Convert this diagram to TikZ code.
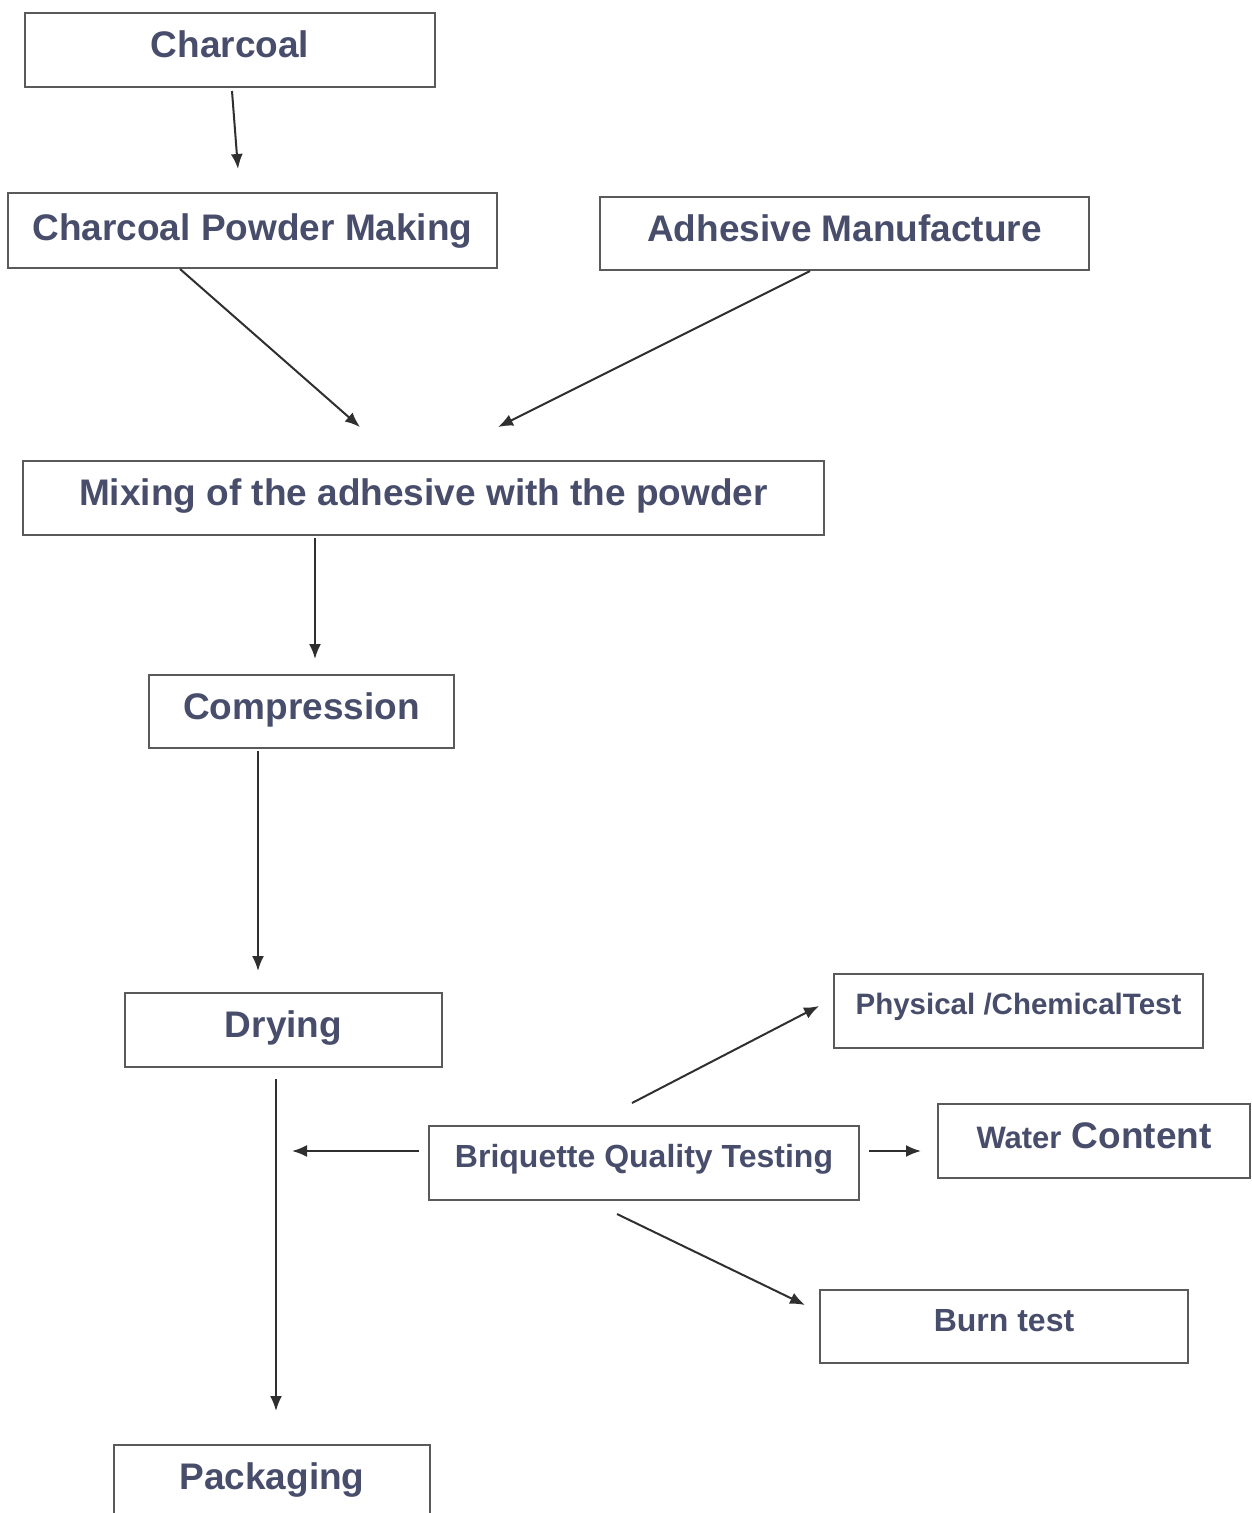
\documentclass[tikz,border=0pt]{standalone}
\usepackage{fontspec}
\setmainfont{Liberation Sans}
\usepackage{tikz}
\usetikzlibrary{arrows.meta, calc}
\definecolor{txtblue}{HTML}{474D6A}
\definecolor{boxgray}{HTML}{5A5A5A}
\definecolor{arrgray}{HTML}{2F2F2F}

\begin{document}
\begin{tikzpicture}[>={Latex[length=15pt,width=12pt]}, x=1pt, y=-1pt,
    box/.style={draw=boxgray, line width=2pt, inner sep=0pt, text=txtblue,
      font=\fontsize{37}{40}\selectfont\bfseries, text height=27pt, text depth=12pt},
    smallbox/.style={box, font=\fontsize{32}{35}\selectfont\bfseries,
      text height=23pt, text depth=14pt},
    flow/.style={->, draw=arrgray, line width=2pt}]
  \useasboundingbox (0,0) rectangle (1251,1513);

  % process chain
  \node[box, minimum width=410pt, minimum height=74pt] (charcoal) at (230,50) {Charcoal};
  \node[box, minimum width=489pt, minimum height=75pt, text depth=8pt] (powder) at (252.5,230.5) {Charcoal Powder Making};
  \node[box, minimum width=489pt, minimum height=73pt] (adhesive) at (844.5,233.5) {Adhesive Manufacture};
  \node[box, minimum width=801pt, minimum height=74pt] (mixing) at (423.5,498) {Mixing of the adhesive with the powder};
  \node[box, minimum width=305pt, minimum height=73pt] (compression) at (301.5,711.5) {Compression};
  \node[box, minimum width=317pt, minimum height=74pt] (drying) at (283.5,1030) {Drying};
  \node[box, minimum width=316pt, minimum height=74pt] (packaging) at (272,1482) {Packaging};

  % quality tests
  \node[smallbox, minimum width=430pt, minimum height=74pt] (testing) at (644,1163) {Briquette Quality Testing};
  \node[smallbox, minimum width=369pt, minimum height=74pt, font=\fontsize{29.5}{32}\selectfont\bfseries,
    text depth=16pt] (physical) at (1018.5,1011) {Physical /ChemicalTest};
  \node[box, minimum width=312pt, minimum height=74pt] (water) at (1094,1141)
    {{\fontsize{31}{34}\selectfont Water} Content};
  \node[smallbox, minimum width=368pt, minimum height=73pt] (burn) at (1004,1326.5) {Burn test};
  \coordinate (meet) at (292,1151);

  \draw[flow] ($(charcoal.south)+(2,3)$) -- ($(powder.north)+(-14.5,-23)$);
  \draw[flow] ($(powder.south)+(-72.5,0)$) -- ($(mixing.north)+(-63.5,-33)$);
  \draw[flow] ($(adhesive.south)+(-34.5,0)$) -- ($(mixing.north)+(74.5,-33)$);
  \draw[flow] ($(mixing.south)+(-108.5,2)$) -- ($(compression.north)+(13.5,-15)$);
  \draw[flow] ($(compression.south)+(-43.5,2)$) -- ($(drying.north)+(-25.5,-21)$);
  \draw[flow] ($(drying.south)+(-7.5,11)$) -- ($(packaging.north)+(4,-33)$);
  \draw[flow] ($(testing.west)+(-9,-12)$) -- (meet);
  \draw[flow] ($(testing.north)+(-12,-22)$) -- ($(physical.west)+(-14,-5)$);
  \draw[flow] ($(testing.east)+(9,-12)$) -- ($(water.west)+(-16,10)$);
  \draw[flow] ($(testing.south)+(-27,13)$) -- ($(burn.west)+(-14,-21.5)$);
\end{tikzpicture}
\end{document}
